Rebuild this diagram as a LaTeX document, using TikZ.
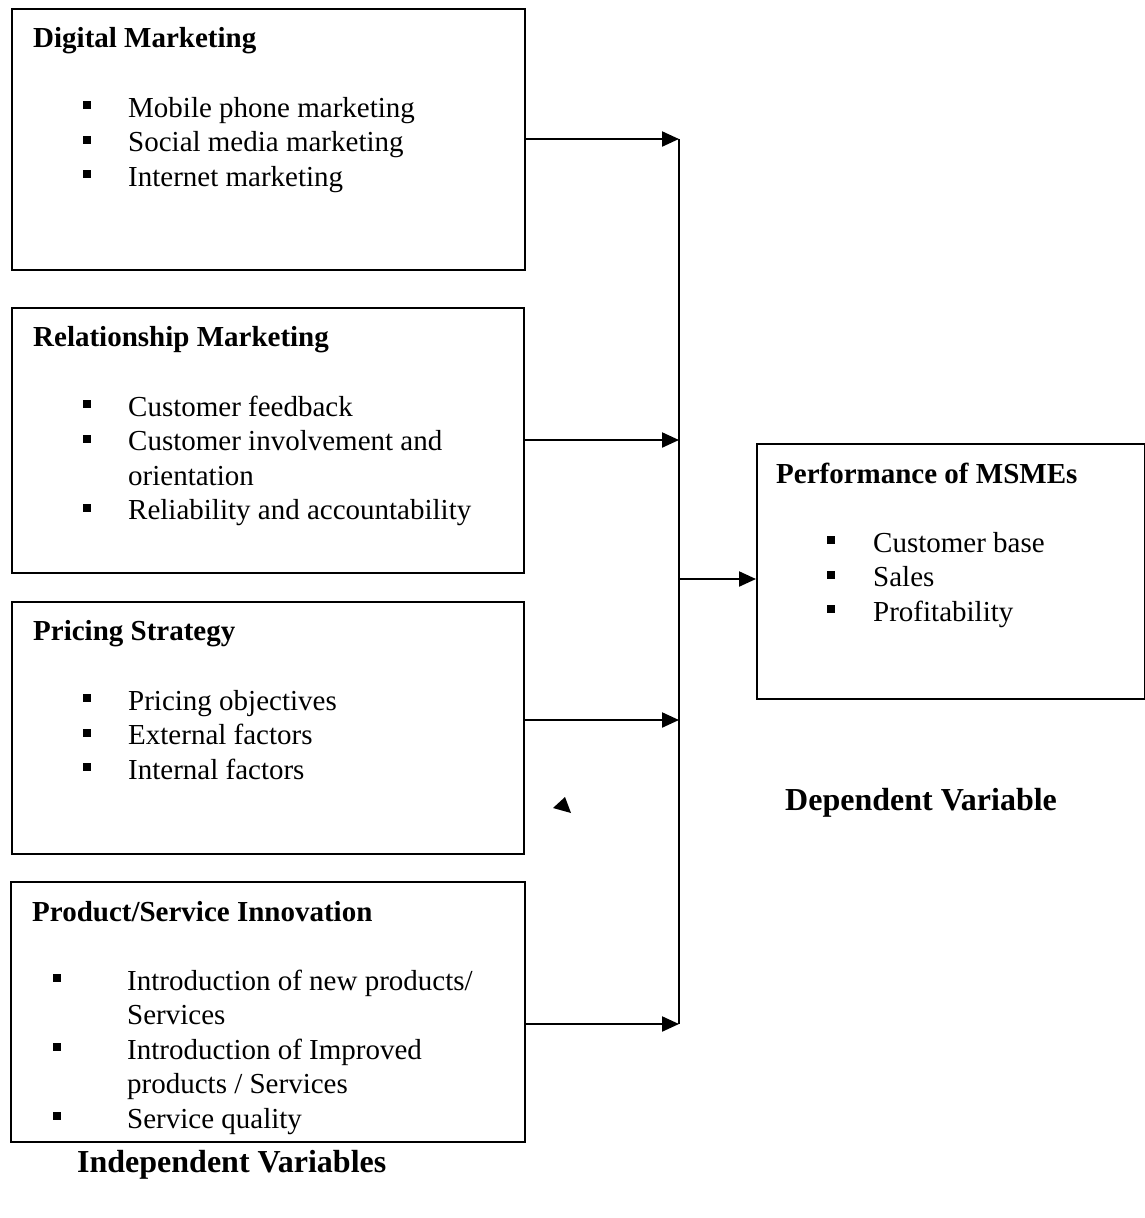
\documentclass[tikz,border=0pt]{standalone}
\usepackage{fontspec}
\setmainfont{Liberation Serif}
\usepackage{tikz}
\usetikzlibrary{positioning,arrows.meta}

\newcommand{\bul}{\raisebox{8pt}{\rule{8pt}{8pt}}}
\newcommand{\itm}[2][45pt]{\makebox[#1][l]{\bul}#2}
\newcommand{\cont}[2][45pt]{\hspace*{#1}#2}

\begin{document}
\begin{tikzpicture}[x=1pt, y=-1pt,
    box/.style={draw, line width=1.8pt, rectangle, anchor=north west, inner sep=0pt},
    head/.style={anchor=base west, inner sep=0pt, font=\fontsize{29}{34.5}\selectfont\bfseries},
    items/.style={anchor=base west, inner sep=0pt, align=left, font=\fontsize{29}{34.5}\selectfont},
    caption/.style={anchor=base west, inner sep=0pt, font=\fontsize{32}{38}\selectfont\bfseries},
    arr/.style={line width=2.2pt, -{Triangle[length=17pt, width=15pt]}},
    bus/.style={line width=2.2pt}
  ]
  \useasboundingbox (0,0) rectangle (1145,1218);

  % Independent variables (list nodes sit on the baseline of their last line)
  \node[box, minimum width=513pt, minimum height=261pt] (dm) at (11,8) {};
  \node[head] (dmt) at (33,47) {Digital Marketing};
  \node[items] (dml) at (83,186) {\itm{Mobile phone marketing}\\
    \itm{Social media marketing}\\ \itm{Internet marketing}};

  \node[box, minimum width=512pt, minimum height=265pt] (rm) at (11,307) {};
  \node[head] (rmt) at (33,346) {Relationship Marketing};
  \node[items] (rml) at (83,519.5) {\itm{Customer feedback}\\
    \itm{Customer involvement and}\\ \cont{orientation}\\
    \itm{Reliability and accountability}};

  \node[box, minimum width=512pt, minimum height=252pt] (ps) at (11,601) {};
  \node[head] (pst) at (33,640) {Pricing Strategy};
  \node[items] (psl) at (83,779) {\itm{Pricing objectives}\\
    \itm{External factors}\\ \itm{Internal factors}};

  \node[box, minimum width=514pt, minimum height=260pt] (pi) at (10,881) {};
  \node[head] (pit) at (32,921) {Product/Service Innovation};
  \node[items] (pil) at (53,1128) {\itm[74pt]{Introduction of new products/}\\
    \cont[74pt]{Services}\\ \itm[74pt]{Introduction of Improved}\\
    \cont[74pt]{products / Services}\\ \itm[74pt]{Service quality}};

  % Dependent variable
  \node[box, minimum width=388pt, minimum height=255pt] (perf) at (756,443) {};
  \node[head] (perft) at (776,483) {Performance of MSMEs};
  \node[items] (perfl) at (827,621) {\itm[46pt]{Customer base}\\
    \itm[46pt]{Sales}\\ \itm[46pt]{Profitability}};

  \node[caption] (dv) at (785,810) {Dependent Variable};
  \node[caption] (iv) at (77,1172) {Independent Variables};

  % connectors
  \coordinate (j1) at (679,139);
  \coordinate (j2) at (679,440);
  \coordinate (j3) at (679,720);
  \coordinate (j4) at (679,1024);
  \coordinate (jm) at (679,579);

  \draw[bus] (j1) -- (j4);
  \draw[arr] (dm.east |- j1) -- (j1);
  \draw[arr] (rm.east |- j2) -- (j2);
  \draw[arr] (ps.east |- j3) -- (j3);
  \draw[arr] (pi.east |- j4) -- (j4);
  \draw[arr] (jm) -- (perf.west |- jm);

  % stray arrow tip
  \fill (565,797) -- (553,808) -- (571,813) -- cycle;
\end{tikzpicture}
\end{document}
